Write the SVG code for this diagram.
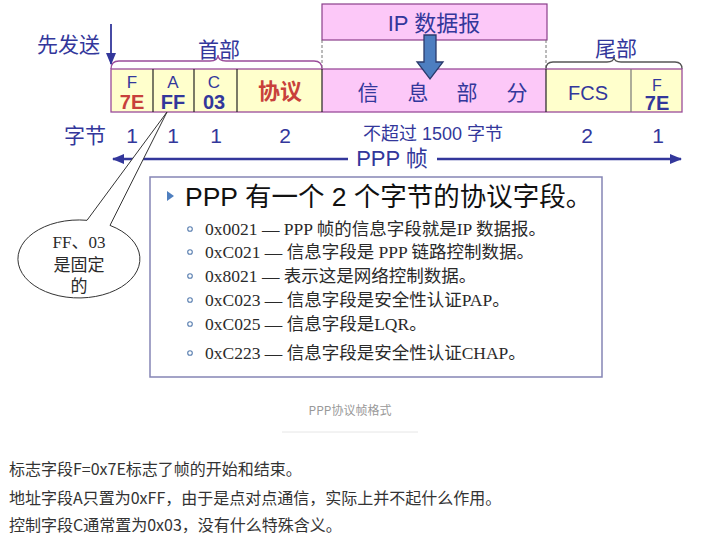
<svg xmlns="http://www.w3.org/2000/svg" width="705" height="536" viewBox="0 0 705 536">
<defs>
<style>
.bl{font-family:"Liberation Sans","Noto Sans CJK SC",sans-serif;fill:#33379b}
.rd{font-family:"Liberation Sans","Noto Sans CJK SC",sans-serif;fill:#c8413b;font-weight:bold}
.ye{fill:#ffffcc}
.pk{fill:#fcc8f8}
.sep{stroke:#222;stroke-width:1.2}
.sr{font-family:"Liberation Serif","Noto Sans CJK SC",serif;fill:#2a2a2a;font-size:17.5px}
.dot{fill:none;stroke:#5a7fb0;stroke-width:1.1}
.ft{font-family:"Noto Sans CJK SC","Liberation Sans",sans-serif;fill:#333;font-size:16px}
</style>
<marker id="ah" viewBox="0 0 12 10" refX="11" refY="5" markerWidth="12" markerHeight="10" markerUnits="userSpaceOnUse" orient="auto">
<path d="M0,0 L12,5 L0,10 Z" fill="#33379b"/>
</marker>
</defs>
<rect width="705" height="536" fill="#fff"/>

<g id="ip-datagram">
<rect x="322" y="4" width="225" height="36" class="pk" stroke="#8a3f8a" stroke-width="1.2"/>
<text x="434" y="31" class="bl" font-size="22" text-anchor="middle">IP 数据报</text>
</g>

<g id="guides" stroke="#777" stroke-width="1" stroke-dasharray="3,2">
<line x1="322" y1="40" x2="322" y2="69"/>
<line x1="546" y1="40" x2="546" y2="69"/>
</g>

<g id="send-first">
<text x="37" y="52" class="bl" font-size="21">先发送</text>
</g>

<g id="header-brace">
<path d="M111,69 Q111,61 119,61 L210,61 Q218,61 218,55 Q218,61 226,61 L314,61 Q322,61 322,69" fill="none" stroke="#9a4c9a" stroke-width="1.3"/>
<text x="219" y="57" class="bl" font-size="21" text-anchor="middle">首部</text>
</g>

<g id="trailer-brace">
<path d="M546,69 Q546,62 553,62 L607,62 Q614,62 614,57 Q614,62 621,62 L675,62 Q682,62 682,69" fill="none" stroke="#555" stroke-width="1.3"/>
<text x="616" y="56" class="bl" font-size="21" text-anchor="middle">尾部</text>
</g>

<g id="frame-bg">
<rect x="111" y="69" width="211" height="43" class="ye"/>
<rect x="322" y="69" width="224" height="43" class="pk"/>
<rect x="546" y="69" width="136" height="43" class="ye"/>
<rect x="111" y="69" width="571" height="43" fill="none" stroke="#9a4c9a" stroke-width="1.3"/>
</g>

<g id="cell-f1">
<line x1="153" y1="69" x2="153" y2="112" class="sep"/>
<text x="132" y="88" class="bl" font-size="17" text-anchor="middle">F</text>
<text x="132" y="109" class="rd" font-size="20" text-anchor="middle">7E</text>
</g>
<g id="cell-a">
<line x1="194" y1="69" x2="194" y2="112" class="sep"/>
<text x="173" y="88" class="bl" font-size="17" text-anchor="middle">A</text>
<text x="173" y="109" class="bl" font-size="20" font-weight="bold" text-anchor="middle">FF</text>
</g>
<g id="cell-c">
<line x1="237" y1="69" x2="237" y2="112" class="sep"/>
<text x="214" y="88" class="bl" font-size="17" text-anchor="middle">C</text>
<text x="214" y="109" class="bl" font-size="20" font-weight="bold" text-anchor="middle">03</text>
</g>
<g id="cell-protocol">
<line x1="322" y1="69" x2="322" y2="112" class="sep"/>
<text x="280" y="99" class="rd" font-size="22" font-weight="normal" text-anchor="middle">协议</text>
</g>
<g id="cell-info">
<line x1="546" y1="69" x2="546" y2="112" class="sep"/>
<text x="368" y="100" class="bl" font-size="21" text-anchor="middle">信</text>
<text x="418" y="100" class="bl" font-size="21" text-anchor="middle">息</text>
<text x="467" y="100" class="bl" font-size="21" text-anchor="middle">部</text>
<text x="517" y="100" class="bl" font-size="21" text-anchor="middle">分</text>
</g>
<g id="cell-fcs">
<line x1="631" y1="69" x2="631" y2="112" stroke="#777" stroke-width="1.2"/>
<text x="588" y="100" class="bl" font-size="20" text-anchor="middle">FCS</text>
</g>
<g id="cell-f2">
<text x="657" y="91" class="bl" font-size="16" text-anchor="middle">F</text>
<text x="657" y="110" class="bl" font-size="20" font-weight="bold" text-anchor="middle">7E</text>
</g>

<g id="bytes-row" class="bl">
<text x="85" y="143" font-size="21" text-anchor="middle">字节</text>
<text x="132" y="143" font-size="21" text-anchor="middle">1</text>
<text x="173" y="143" font-size="21" text-anchor="middle">1</text>
<text x="216" y="143" font-size="21" text-anchor="middle">1</text>
<text x="285" y="143" font-size="21" text-anchor="middle">2</text>
<text x="433" y="140" font-size="18" text-anchor="middle">不超过 1500 字节</text>
<text x="587" y="143" font-size="21" text-anchor="middle">2</text>
<text x="658" y="143" font-size="21" text-anchor="middle">1</text>
</g>

<g id="ppp-frame-label">
<text x="392" y="166" class="bl" font-size="22" text-anchor="middle">PPP 帧</text>
</g>

<g id="connectors">
<line x1="111" y1="24" x2="111" y2="64" stroke="#33379b" stroke-width="1.8" marker-end="url(#ah)"/>
<line x1="348" y1="159" x2="113" y2="159" stroke="#33379b" stroke-width="2.6" marker-end="url(#ah)"/>
<line x1="437" y1="159" x2="681" y2="159" stroke="#33379b" stroke-width="2.6" marker-end="url(#ah)"/>
<path d="M424,35 L436,35 L436,62 L443,62 L430,79 L417,62 L424,62 Z" fill="#4d7ec0" stroke="#2a3b6c" stroke-width="1.3"/>
</g>

<g id="callout">
<path d="M87,220.3 L167,112 L110,225.4 A61,39 0 1 1 87,220.3 Z" fill="#fff" stroke="#333" stroke-width="1"/>
<text x="79" y="248" class="sr" text-anchor="middle" style="font-size:17px">FF、03</text>
<text x="79" y="271" class="sr" text-anchor="middle" style="font-size:17px">是固定</text>
<text x="79" y="292" class="sr" text-anchor="middle" style="font-size:17px">的</text>
</g>

<g id="protocol-box">
<rect x="150" y="177" width="452" height="200" fill="#fff" stroke="#8585b5" stroke-width="1.5"/>
<path d="M167,191 L174,196 L167,201 Z" fill="#4f7fbf"/>
<text x="185" y="206" font-family="Liberation Sans,'Noto Sans CJK SC',sans-serif" font-size="26.5" fill="#111">PPP 有一个 2 个字节的协议字段。</text>
<circle cx="190" cy="229" r="2.3" class="dot"/>
<text x="205" y="235" class="sr">0x0021 — PPP 帧的信息字段就是IP 数据报。</text>
<circle cx="190" cy="252" r="2.3" class="dot"/>
<text x="205" y="258" class="sr">0xC021 — 信息字段是 PPP 链路控制数据。</text>
<circle cx="190" cy="276" r="2.3" class="dot"/>
<text x="205" y="282" class="sr">0x8021 — 表示这是网络控制数据。</text>
<circle cx="190" cy="300" r="2.3" class="dot"/>
<text x="205" y="306" class="sr">0xC023 — 信息字段是安全性认证PAP。</text>
<circle cx="190" cy="324" r="2.3" class="dot"/>
<text x="205" y="330" class="sr">0xC025 — 信息字段是LQR。</text>
<circle cx="190" cy="353" r="2.3" class="dot"/>
<text x="205" y="359" class="sr">0xC223 — 信息字段是安全性认证CHAP。</text>
</g>

<g id="caption">
<text x="350" y="415" font-family="'Noto Sans CJK SC','Liberation Sans',sans-serif" font-size="12" fill="#999" text-anchor="middle">PPP协议帧格式</text>
<line x1="282" y1="432" x2="418" y2="432" stroke="#e6e6e6" stroke-width="1"/>
</g>

<g id="notes">
<text x="9" y="475" class="ft">标志字段F=0x7E标志了帧的开始和结束。</text>
<text x="9" y="504" class="ft">地址字段A只置为0xFF，由于是点对点通信，实际上并不起什么作用。</text>
<text x="9" y="531" class="ft">控制字段C通常置为0x03，没有什么特殊含义。</text>
</g>
</svg>
